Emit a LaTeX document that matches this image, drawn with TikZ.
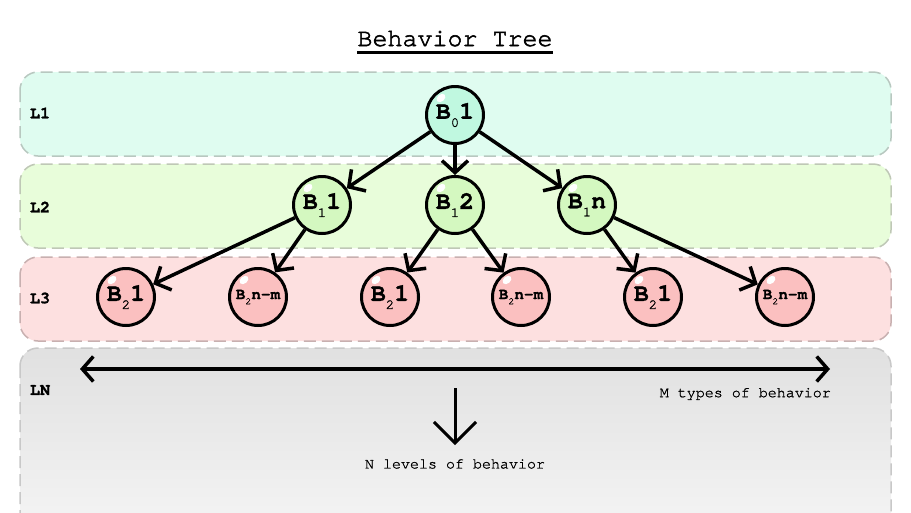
\documentclass[tikz,border=0pt]{standalone}
\usepackage{fontspec}
\setmonofont{TeX Gyre Cursor}
\newfontfamily\courthick[FakeBold=1.2]{TeX Gyre Cursor}
\newfontfamily\courtitle[FakeBold=2.2]{TeX Gyre Cursor}
\newfontfamily\courbold[FakeBold=1.0]{TeX Gyre Cursor Bold}
\usetikzlibrary{arrows.meta,shadings}
\definecolor{bandA}{HTML}{DFFCF0}
\definecolor{bandB}{HTML}{E8FDDA}
\definecolor{bandC}{HTML}{FDE0E0}
\definecolor{edgeA}{HTML}{B8C8C0}
\definecolor{edgeB}{HTML}{BFC8B6}
\definecolor{edgeC}{HTML}{C8B0B0}
\definecolor{edgeN}{HTML}{C8C8C8}
\definecolor{nodeA}{HTML}{C0F8E0}
\definecolor{nodeB}{HTML}{D4F8C0}
\definecolor{nodeC}{HTML}{FBC0C0}
\newcommand\bsub[2]{\raisebox{-0.32em}{\courthick\fontsize{#1}{#1}\selectfont #2}}
\tikzset{
  band/.style={rounded corners=18pt, dash pattern=on 12pt off 6pt, line width=1.5pt},
  bnode/.style={circle, draw=black, line width=3pt, minimum size=57pt, inner sep=0pt,
    font=\courbold\fontsize{25}{25}\selectfont,
    path picture={\fill[white] ([shift={(-14,-17)}]path picture bounding box.center) ellipse [x radius=5pt, y radius=3.5pt, rotate=40];}},
  smalltext/.style={font=\courbold\fontsize{16}{16}\selectfont},
  lvl/.style={font=\courbold\fontsize{17}{17}\selectfont, inner sep=0pt},
  note/.style={font=\courthick\fontsize{15}{15}\selectfont, inner sep=0pt},
  arr/.style={line width=3.5pt, -{Straight Barb[length=12pt,width=26pt]}},
}
\begin{document}
\begin{tikzpicture}[x=1pt,y=-1pt]
\clip (0,0) rectangle (911,512);
\fill[white] (0,0) rectangle (911,512);
% bands
\filldraw[band, fill=bandA, draw=edgeA] (20,72) rectangle (891,156);
\filldraw[band, fill=bandB, draw=edgeB] (20,164) rectangle (891,248);
\filldraw[band, fill=bandC, draw=edgeC] (20,257) rectangle (891,341);
\shade[band, top color=black!12, bottom color=black!3] (20,348) rectangle (891,560);
\draw[band, draw=edgeN] (20,348) rectangle (891,560);
% title
\node[font=\courtitle\fontsize{25}{25}\selectfont, inner sep=0pt, anchor=base] (title) at (455,46) {Behavior Tree};
\draw[line width=3pt] ([yshift=-6pt]title.base west) -- ([yshift=-6pt]title.base east);
% level labels
\node[lvl] (l1) at (40,113) {L1};
\node[lvl] (l2) at (40,207) {L2};
\node[lvl] (l3) at (40,298) {L3};
\node[lvl] (ln) at (40,390) {LN};
% nodes
\node[bnode, fill=nodeA] (a) at (455,115) {B\bsub{14}{0}1};
\node[bnode, fill=nodeB] (b1) at (322,205) {B\bsub{14}{1}1};
\node[bnode, fill=nodeB] (b2) at (455,205) {B\bsub{14}{1}2};
\node[bnode, fill=nodeB] (bn) at (587,205) {B\bsub{14}{1}n};
\node[bnode, fill=nodeC] (c1) at (126,297) {B\bsub{14}{2}1};
\node[bnode, fill=nodeC, smalltext] (c2) at (258,297) {B\bsub{10}{2}n-m};
\node[bnode, fill=nodeC] (c3) at (390,297) {B\bsub{14}{2}1};
\node[bnode, fill=nodeC, smalltext] (c4) at (521,297) {B\bsub{10}{2}n-m};
\node[bnode, fill=nodeC] (c5) at (653,297) {B\bsub{14}{2}1};
\node[bnode, fill=nodeC, smalltext] (c6) at (785,297) {B\bsub{10}{2}n-m};
% connectors
\draw[arr] (a) -- (b1);
\draw[arr] (a) -- (b2);
\draw[arr] (a) -- (bn);
\draw[arr] (b1) -- (c1);
\draw[arr] (b1) -- (c2);
\draw[arr] (b2) -- (c3);
\draw[arr] (b2) -- (c4);
\draw[arr] (bn) -- (c5);
\draw[arr] (bn) -- (c6);
% LN arrows
\coordinate (mL) at (80,369);
\coordinate (mR) at (830,369);
\draw[line width=3.5pt, {Straight Barb[length=11pt,width=25pt]}-{Straight Barb[length=11pt,width=25pt]}] (mL) -- (mR);
\coordinate (dT) at (455,388);
\coordinate (dB) at (455,445);
\draw[line width=3pt, -{Straight Barb[length=21pt,width=42pt]}] (dT) -- (dB);
\node[note, anchor=east] (mt) at (831,394) {M types of behavior};
\node[note] (nt) at (455,464) {N levels of behavior};
\end{tikzpicture}
\end{document}
